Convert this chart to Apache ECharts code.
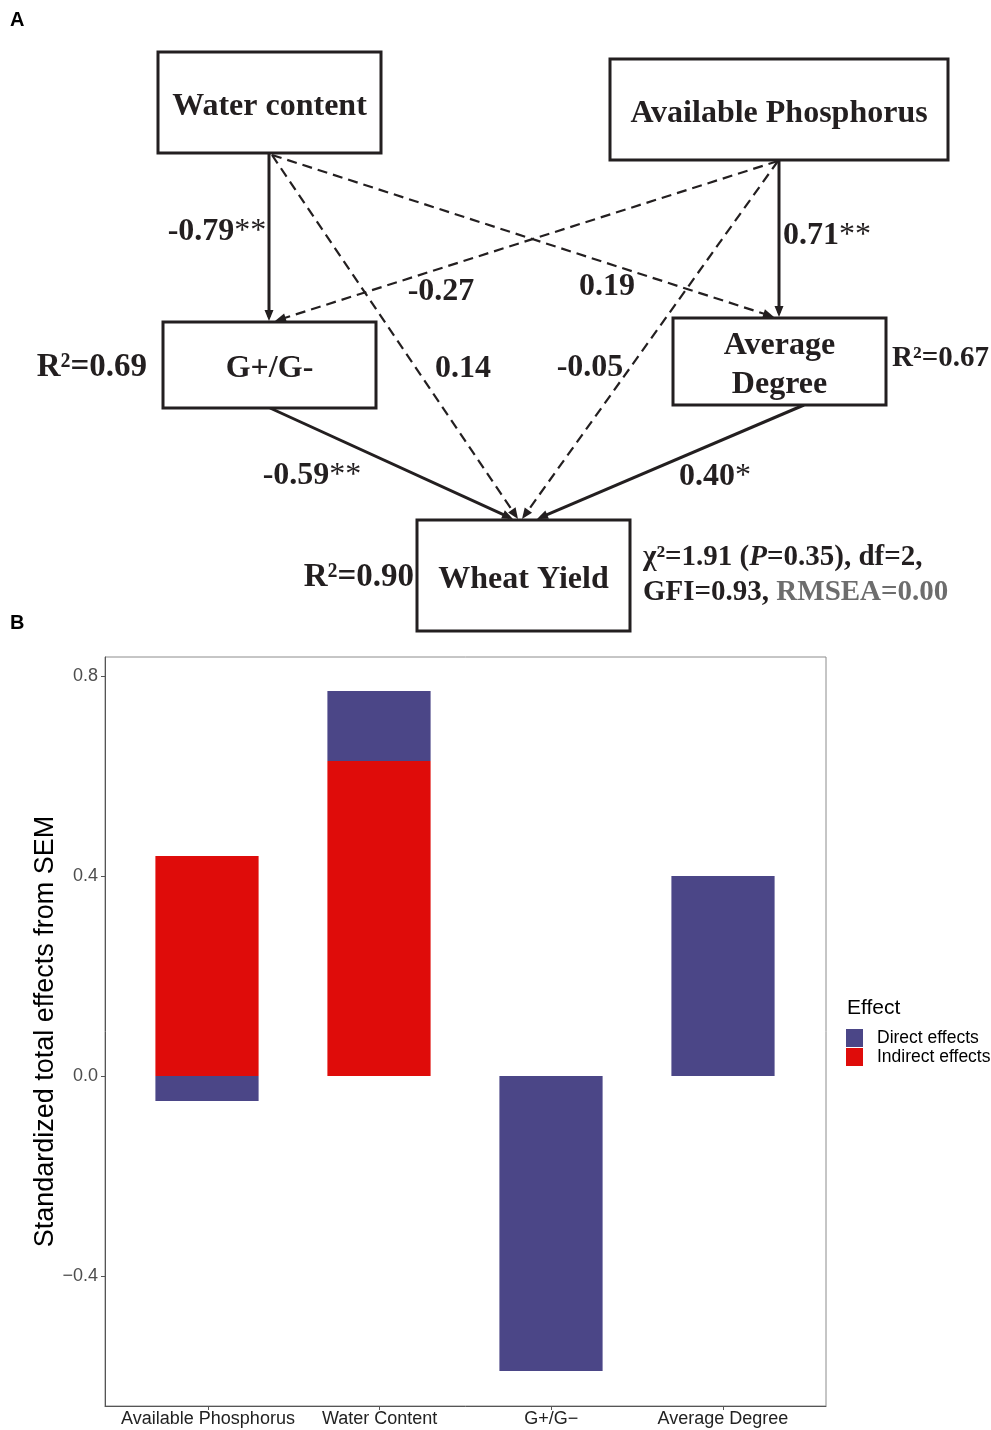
<!DOCTYPE html>
<html><head><meta charset="utf-8">
<script src="https://cdn.jsdelivr.net/npm/echarts@6/dist/echarts.min.js"></script>
<style>html,body{margin:0;padding:0;background:#fff}#c{width:991px;height:1430px}</style>
</head><body><div id="c"></div>
<script>
// ---------------- Panel B data ----------------
const categories = ['Available Phosphorus', 'Water Content', 'G+/G\u2212', 'Average Degree'];
const directEffects = [-0.05, 0.14, -0.59, 0.40];
const indirectEffects = [0.44, 0.63, 0, 0];
const yTickValues = [-0.4, 0.0, 0.4, 0.8];
const legendNames = ['Direct effects', 'Indirect effects'];
const legendTitle = 'Effect';
const yAxisTitle = 'Standardized total effects from SEM';

// ---------------- Panel A data ----------------
const nodeNames = ['Water content', 'Available Phosphorus', 'G+/G-', 'Average\nDegree', 'Wheat Yield'];
const pathFrom = [0, 1, 0, 1, 0, 1, 2, 3];
const pathTo = [2, 3, 3, 2, 4, 4, 4, 4];
const pathCoef = ['-0.79', '0.71', '0.19', '-0.27', '0.14', '-0.05', '-0.59', '0.40'];
const pathSig = ['**', '**', '', '', '', '', '**', '*'];
const rSquared = [null, null, '0.69', '0.67', '0.90'];
const fitChi2 = '1.91', fitP = '0.35', fitDf = '2', fitGFI = '0.93', fitRMSEA = '0.00';

// ---------------- Panel A layout (diagram units) ----------------
const layoutA = {
  box: [[158, 52, 381, 153], [610, 59, 948, 160], [163, 322, 376, 408], [673, 318, 886, 405], [417, 520, 630, 631]],
  edgeStart: [[269, 153], [779, 160], [272, 155], [778, 161], [272, 155], [778, 161], [270, 408], [804, 405]],
  edgeEnd: [[269, 321], [779, 317], [774, 317], [275, 321], [518, 519], [522, 519], [513, 519], [537, 519]],
  labelPos: [[217, 232, 'center'], [783, 236, 'left'], [607, 287, 'center'], [441, 292, 'center'],
             [463, 369, 'center'], [590, 368, 'center'], [312, 476, 'center'], [715, 477, 'center']],
  r2Pos: [null, null, [147, 367, 'right', 33], [892, 359, 'left', 29], [414, 577, 'right', 33]],
  statPos: [[643, 558], [643, 593]]
};

const ink = '#231f20';
const serif = '"Liberation Serif", "Times New Roman", serif';
const sans = '"Liberation Sans", Arial, Helvetica, sans-serif';
const colDirect = '#4b4687';
const colIndirect = '#df0c0a';
const yMin = -0.66, yMax = 0.838;

const chart = echarts.init(document.getElementById('c'), null, { renderer: 'canvas' });

function idxData(n) { const a = []; for (let i = 0; i < n; i++) a.push([i, 0]); return a; }

const option = {
  animation: false,
  backgroundColor: '#ffffff',
  title: [
    { text: 'A', left: 5, top: 5, textStyle: { fontFamily: sans, fontSize: 20, fontWeight: 'bold', color: '#000' } },
    { text: 'B', left: 5, top: 608, textStyle: { fontFamily: sans, fontSize: 20, fontWeight: 'bold', color: '#000' } },
    { text: legendTitle, left: 842, top: 993, textStyle: { fontFamily: sans, fontSize: 21, fontWeight: 'normal', color: '#000' } }
  ],
  legend: {
    data: legendNames,
    orient: 'vertical',
    left: 841, top: 1024,
    itemWidth: 17, itemHeight: 18, itemGap: 1,
    icon: 'rect',
    selectedMode: false,
    textStyle: { fontFamily: sans, fontSize: 17.5, color: '#000', padding: [0, 0, 0, 9] }
  },
  grid: [
    { left: 105, top: 657, width: 721, height: 749, show: true, borderColor: '#8c8c8c', borderWidth: 1, backgroundColor: '#fff' },
    { left: 0, top: 0, width: 991, height: 640, show: false },
    { left: 121, top: 657, width: 688, height: 749, show: false }
  ],
  xAxis: [
    {
      gridIndex: 0, type: 'value', min: -0.6, max: 3.6,
      splitLine: { show: false },
      axisLine: { show: true, onZero: false, lineStyle: { color: '#555', width: 1 } },
      axisTick: { show: true, length: 4, customValues: [0, 1, 2, 3], lineStyle: { color: '#555' } },
      axisLabel: { customValues: [0, 1, 2, 3], margin: 4, fontFamily: sans, fontSize: 18, color: '#222',
        formatter: v => categories[Math.round(v)] }
    },
    { gridIndex: 1, type: 'value', min: 0, max: 991, show: false },
    { gridIndex: 2, type: 'category', data: categories, show: false }
  ],
  yAxis: [
    {
      gridIndex: 0, type: 'value', min: yMin, max: yMax,
      splitLine: { show: false },
      axisLine: { show: true, onZero: false, lineStyle: { color: '#555', width: 1 } },
      axisTick: { show: true, length: 4, customValues: yTickValues, lineStyle: { color: '#555' } },
      axisLabel: { customValues: yTickValues, margin: 7, fontFamily: sans, fontSize: 18, color: '#4d4d4d',
        formatter: v => v.toFixed(1).replace('-', '\u2212') },
      name: yAxisTitle, nameLocation: 'middle', nameGap: 46, nameMoveOverlap: false,
      nameTextStyle: { fontFamily: sans, fontSize: 27, color: '#000' }
    },
    { gridIndex: 1, type: 'value', min: 0, max: 640, inverse: true, show: false },
    { gridIndex: 2, type: 'value', min: yMin, max: yMax, show: false }
  ],
  series: [
    {
      name: legendNames[1], type: 'bar', stack: 'total', xAxisIndex: 2, yAxisIndex: 2,
      barWidth: '60%', itemStyle: { color: colIndirect },
      data: indirectEffects
    },
    {
      name: legendNames[0], type: 'bar', stack: 'total', xAxisIndex: 2, yAxisIndex: 2,
      barWidth: '60%', itemStyle: { color: colDirect },
      data: directEffects
    },
    // ---- Panel A: paths ----
    {
      type: 'custom', xAxisIndex: 1, yAxisIndex: 1, z: 2, silent: true,
      data: idxData(pathCoef.length),
      renderItem: function (params, api) {
        const e = api.value(0);
        const s = api.coord(layoutA.edgeStart[e]);
        const t = api.coord(layoutA.edgeEnd[e]);
        const dx = t[0] - s[0], dy = t[1] - s[1];
        const len = Math.hypot(dx, dy), ux = dx / len, uy = dy / len;
        const ah = 11, aw = 4.5;
        const bx = t[0] - ux * ah, by = t[1] - uy * ah;
        const dashed = pathSig[e] === '';
        const lp = layoutA.labelPos[e];
        const lpc = api.coord([lp[0], lp[1]]);
        return {
          type: 'group',
          children: [
            { type: 'line', shape: { x1: s[0], y1: s[1], x2: t[0] - ux * 4, y2: t[1] - uy * 4 },
              style: { stroke: ink, lineWidth: dashed ? 2.2 : 3, lineDash: dashed ? [10, 6] : null } },
            { type: 'polygon', shape: { points: [[t[0], t[1]], [bx - uy * aw, by + ux * aw], [bx + uy * aw, by - ux * aw]] },
              style: { fill: ink } },
            { type: 'text', style: {
                text: '{c|' + pathCoef[e] + '}' + (pathSig[e] ? '{s|' + pathSig[e] + '}' : ''),
                x: lpc[0], y: lpc[1], align: lp[2], verticalAlign: 'middle',
                rich: {
                  c: { fontFamily: serif, fontSize: 32, fontWeight: 'bold', fill: ink },
                  s: { fontFamily: serif, fontSize: 32, fontWeight: 'normal', fill: ink }
                } } }
          ]
        };
      }
    },
    // ---- Panel A: nodes ----
    {
      type: 'custom', xAxisIndex: 1, yAxisIndex: 1, z: 3, silent: true,
      data: idxData(nodeNames.length),
      renderItem: function (params, api) {
        const i = api.value(0);
        const b = layoutA.box[i];
        const p0 = api.coord([b[0], b[1]]), p1 = api.coord([b[2], b[3]]);
        const children = [
          { type: 'rect', shape: { x: p0[0], y: p0[1], width: p1[0] - p0[0], height: p1[1] - p0[1] },
            style: { fill: '#fff', stroke: ink, lineWidth: 3 } },
          { type: 'text', style: { text: nodeNames[i], x: (p0[0] + p1[0]) / 2, y: (p0[1] + p1[1]) / 2 + 4,
              align: 'center', verticalAlign: 'middle', fontFamily: serif, fontSize: 32, fontWeight: 'bold',
              lineHeight: 39, fill: ink } }
        ];
        if (rSquared[i]) {
          const rp = layoutA.r2Pos[i];
          const rc = api.coord([rp[0], rp[1]]);
          children.push({ type: 'text', style: { text: 'R\u00b2=' + rSquared[i], x: rc[0], y: rc[1],
            align: rp[2], verticalAlign: 'middle', fontFamily: serif, fontSize: rp[3], fontWeight: 'bold', fill: ink } });
        }
        return { type: 'group', children: children };
      }
    },
    // ---- Panel A: fit statistics ----
    {
      type: 'custom', xAxisIndex: 1, yAxisIndex: 1, z: 3, silent: true,
      data: idxData(2),
      renderItem: function (params, api) {
        const k = api.value(0);
        const p = api.coord(layoutA.statPos[k]);
        const txt = k === 0
          ? '{t|\u03c7\u00b2=' + fitChi2 + ' (}{i|P}{t|=' + fitP + '), df=' + fitDf + ',}'
          : '{t|GFI=' + fitGFI + ', }{g|RMSEA=' + fitRMSEA + '}';
        return { type: 'text', style: { text: txt, x: p[0], y: p[1], align: 'left', verticalAlign: 'middle',
          rich: {
            t: { fontFamily: serif, fontSize: 29, fontWeight: 'bold', fill: ink },
            i: { fontFamily: serif, fontSize: 29, fontWeight: 'bold', fontStyle: 'italic', fill: ink },
            g: { fontFamily: serif, fontSize: 29, fontWeight: 'bold', fill: '#6d6d6d' }
          } } };
      }
    }
  ]
};
chart.setOption(option);
</script>
</body></html>
